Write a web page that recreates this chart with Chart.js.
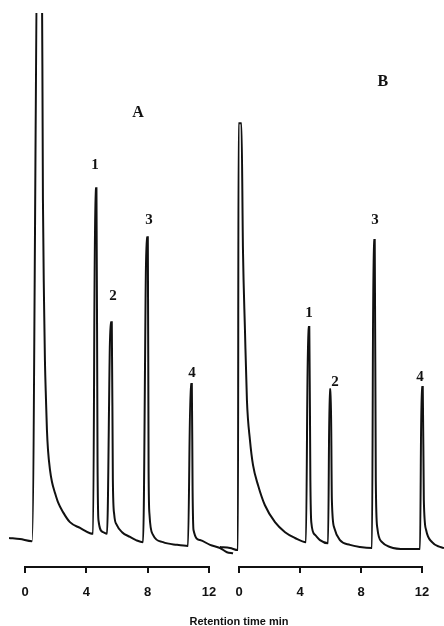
<!DOCTYPE html>
<html>
<head>
<meta charset="utf-8">
<script src="https://cdn.jsdelivr.net/npm/chart.js@4/dist/chart.umd.min.js"></script>
<style>
  body { margin: 0; background: #fff; }
  #wrap { position: relative; width: 444px; height: 626px; }
  #wrap canvas { position: absolute; left: 0; top: 0; }
  #xtitle {
    position: absolute; left: 0; width: 478px; top: 616px;
    text-align: center; font: bold 11px "Liberation Sans", Arial, sans-serif;
    line-height: 11px; color: #111;
  }
</style>
</head>
<body>
<div id="wrap">
  <canvas id="chartA" width="444" height="626"></canvas>
  <canvas id="chartB" width="444" height="626"></canvas>
  <div id="xtitle">Retention time min</div>
</div>
<script>
// Chromatogram A (retention time in min, detector signal)
const timeA = [-1.04, -0.33, 0.46, 0.85, 1.08, 1.17, 1.24, 1.30, 1.37, 1.43, 1.50, 1.63, 1.76, 1.96, 2.15, 2.48, 2.93, 3.59, 4.24, 4.44,
  4.58, 4.66, 4.73, 4.79, 5.09, 5.35,
  5.58, 5.66, 5.73, 5.82, 6.00, 6.33, 6.85, 7.24, 7.70,
  7.93, 8.01, 8.06, 8.12, 8.35, 9.00, 9.91, 10.63,
  10.80, 10.88, 10.93, 10.99, 11.41, 12.07, 12.72, 13.17, 13.57];
const signalA = [0.5, 0.3, -0.1, 120, 120, 64.5, 45.6, 34.2, 26.6, 21.0, 17.2, 13.4, 11.1, 9.0, 7.3, 5.4, 3.5, 2.4, 1.4, 1.3,
  66.8, 66.8, 15.3, 3.9, 1.6, 1.3,
  41.4, 41.4, 11.5, 4.9, 2.9, 1.6, 0.7, 0.1, -0.3,
  57.5, 57.5, 13.4, 4.9, 1.1, -0.3, -0.8, -1.0,
  29.7, 29.7, 9.6, 2.0, 0.1, -0.8, -1.4, -2.2, -2.4];

// Chromatogram B
const timeB = [-1.25, -0.59, -0.07, -0.03, 0.16, 0.26, 0.39, 0.52, 0.72, 0.92, 1.25, 1.70, 2.36, 3.02, 3.67, 4.39,
  4.53, 4.61, 4.68, 4.74, 4.98, 5.31, 5.84,
  5.94, 6.02, 6.09, 6.25, 6.62, 7.28, 7.93, 8.72,
  8.82, 8.90, 8.97, 9.07, 9.38, 9.90, 10.89, 11.87,
  11.97, 12.05, 12.12, 12.27, 12.66, 13.18, 13.44];
const signalB = [-1.2, -1.4, -1.8, 79.1, 79.1, 55.1, 40.0, 26.6, 19.0, 14.3, 10.5, 6.7, 3.5, 1.6, 0.5, -0.3,
  40.5, 40.5, 11.5, 3.5, 1.1, 0.1, -0.5,
  28.7, 28.7, 7.7, 2.4, 0.1, -0.8, -1.2, -1.4,
  57.0, 57.0, 11.5, 2.4, -0.3, -1.2, -1.6, -1.6,
  29.1, 29.1, 7.7, 2.0, -0.3, -1.2, -1.4];

// Peak labels: text, time, signal
const peakNames = ['1', '2', '3', '4'];
const labelTimeA = [4.57, 5.74, 8.09, 10.89];
const labelSignalA = [71.2, 46.4, 60.8, 31.8];
const labelTimeB = [4.59, 6.30, 8.92, 11.87];
const labelSignalB = [43.1, 30.1, 60.8, 31.0];
const panelNames = ['A', 'B'];
const panelPos = [[7.37, 81.0], [9.44, 86.9]];

const xTicks = [0, 4, 8, 12];

// draws the short axis line from first to last tick, plus peak / panel labels
const chromPlugin = {
  id: 'chrom',
  afterDraw(chart, args, opts) {
    const { ctx, chartArea, scales: { x, y } } = chart;
    ctx.save();
    ctx.strokeStyle = '#111';
    ctx.lineWidth = 2;
    ctx.beginPath();
    ctx.moveTo(x.getPixelForValue(xTicks[0]) - 1, chartArea.bottom);
    ctx.lineTo(x.getPixelForValue(xTicks[xTicks.length - 1]) + 1, chartArea.bottom);
    ctx.stroke();

    ctx.fillStyle = '#111';
    ctx.textAlign = 'center';
    ctx.textBaseline = 'middle';
    ctx.font = 'bold 15px "Liberation Serif", serif';
    opts.names.forEach((n, i) => {
      ctx.fillText(n, x.getPixelForValue(opts.times[i]), y.getPixelForValue(opts.signals[i]));
    });
    ctx.font = 'bold 16px "Liberation Serif", serif';
    ctx.fillText(opts.panel, x.getPixelForValue(opts.panelAt[0]), y.getPixelForValue(opts.panelAt[1]));
    ctx.restore();
  }
};

// zeroPx / twelvePx: where 0 and 12 min sit on the page
function makeChart(id, times, signals, zeroPx, twelvePx, xMin, xMax, labelTimes, labelSignals, panel, panelAt) {
  const perMin = (twelvePx - zeroPx) / 12;
  const padLeft = zeroPx + xMin * perMin;
  const padRight = Math.max(0, 444 - (zeroPx + xMax * perMin));
  return new Chart(document.getElementById(id), {
    type: 'line',
    data: {
      datasets: [{
        data: times.map((t, i) => ({ x: t, y: signals[i] })),
        borderColor: '#111',
        borderWidth: 2,
        pointRadius: 0,
        cubicInterpolationMode: 'monotone',
        fill: false,
        clip: { left: 10, right: 10, top: 0, bottom: 30 }
      }]
    },
    options: {
      responsive: false,
      animation: false,
      layout: { padding: { left: padLeft, right: padRight, top: 13, bottom: 19 } },
      plugins: {
        legend: { display: false },
        tooltip: { enabled: false },
        chrom: { names: peakNames, times: labelTimes, signals: labelSignals, panel: panel, panelAt: panelAt }
      },
      scales: {
        x: {
          type: 'linear',
          min: xMin,
          max: xMax,
          afterBuildTicks: s => { s.ticks = xTicks.map(v => ({ value: v })); },
          afterFit: s => { s.height = 40; },
          border: { display: false },
          grid: { display: true, drawOnChartArea: false, tickLength: 6, color: '#111', lineWidth: 2 },
          ticks: {
            color: '#111',
            padding: 12,
            maxRotation: 0,
            autoSkip: false,
            font: { family: '"Liberation Sans", Arial, sans-serif', size: 13, weight: 'bold' }
          }
        },
        y: { display: false, min: -5, max: 100 }
      }
    },
    plugins: [chromPlugin]
  });
}

makeChart('chartA', timeA, signalA, 25, 209, -1.3, 13.8, labelTimeA, labelSignalA, panelNames[0], panelPos[0]);
makeChart('chartB', timeB, signalB, 239, 422, -1.3, 13.4, labelTimeB, labelSignalB, panelNames[1], panelPos[1]);
</script>
</body>
</html>
